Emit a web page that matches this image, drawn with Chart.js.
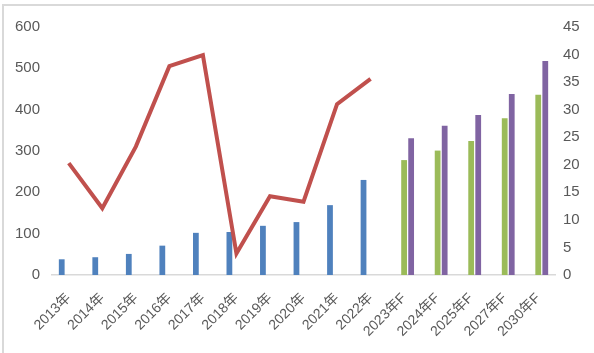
<!DOCTYPE html>
<html>
<head>
<meta charset="utf-8">
<script src="https://cdn.jsdelivr.net/npm/chart.js@4"></script>
<style>
  html, body { margin: 0; padding: 0; background: #fff; }
  #wrap { position: relative; width: 594px; height: 353px; }
</style>
</head>
<body>
<div id="wrap"><canvas id="chart" width="594" height="353"></canvas></div>
<script>
//-----------------------------------------
// DATA
//-----------------------------------------
const years = ["2013年", "2014年", "2015年", "2016年", "2017年", "2018年", "2019年", "2020年",
  "2021年", "2022年", "2023年F", "2024年F", "2025年F", "2027年F", "2030年F"];

// bars (left axis)
const actualValues = [38, 43, 51, 71, 102, 104, 119, 128, 169, 230, null, null, null, null, null];
const forecastLow  = [null, null, null, null, null, null, null, null, null, null, 278, 301, 324, 379, 436];
const forecastHigh = [null, null, null, null, null, null, null, null, null, null, 331, 361, 387, 438, 518];

// line (right axis)
const growthRate = [20.3, 12.1, 23.3, 37.9, 39.9, 3.9, 14.3, 13.3, 31.0, 35.6, null, null, null, null, null];

const leftTicks = [0, 100, 200, 300, 400, 500, 600];
const rightTicks = [0, 5, 10, 15, 20, 25, 30, 35, 40, 45];

const tickColor = "#595959";
const tickFont = { family: "'Liberation Sans', 'Noto Sans CJK SC', sans-serif", size: 15 };

// light frame like the screenshot (top + left edge)
const framePlugin = {
  id: "frame",
  afterDraw(chart) {
    const ctx = chart.ctx;
    ctx.save();
    ctx.strokeStyle = "#d9d9d9";
    ctx.lineWidth = 2;
    ctx.beginPath();
    ctx.moveTo(3, 353);
    ctx.lineTo(3, 5);
    ctx.lineTo(594, 5);
    ctx.stroke();
    ctx.restore();
  }
};

new Chart(document.getElementById("chart"), {
  data: {
    labels: years,
    datasets: [
      {
        type: "line",
        data: growthRate,
        yAxisID: "y1",
        borderColor: "#C0504D",
        borderWidth: 4,
        pointRadius: 0,
        tension: 0,
        spanGaps: false,
        order: 0
      },
      {
        type: "bar",
        data: actualValues,
        yAxisID: "y",
        backgroundColor: "#4F81BD",
        categoryPercentage: 0.63,
        barPercentage: 0.82,
        order: 1
      },
      {
        type: "bar",
        data: forecastLow,
        yAxisID: "y",
        backgroundColor: "#9BBB59",
        categoryPercentage: 0.63,
        barPercentage: 0.82,
        order: 1
      },
      {
        type: "bar",
        data: forecastHigh,
        yAxisID: "y",
        backgroundColor: "#8064A2",
        categoryPercentage: 0.63,
        barPercentage: 0.82,
        order: 1
      }
    ]
  },
  options: {
    responsive: false,
    animation: false,
    layout: { padding: { top: 27, left: 0, right: 0, bottom: 0 } },
    plugins: {
      legend: { display: false },
      tooltip: { enabled: false }
    },
    scales: {
      x: {
        grid: { display: false, drawTicks: false },
        border: { display: true, color: "#d9d9d9", width: 1.5 },
        ticks: {
          color: tickColor,
          font: { family: tickFont.family, size: 14 },
          minRotation: 45,
          maxRotation: 45,
          autoSkip: false,
          padding: 15
        },
        afterFit(scale) { scale.height = 78; }
      },
      y: {
        position: "left",
        min: 0,
        max: 600,
        grid: { display: false, drawTicks: false },
        border: { display: false },
        afterBuildTicks(scale) { scale.ticks = leftTicks.map(v => ({ value: v })); },
        ticks: { color: tickColor, font: tickFont, padding: 12 },
        afterFit(scale) { scale.width = 52; }
      },
      y1: {
        position: "right",
        min: 0,
        max: 45,
        grid: { display: false, drawTicks: false },
        border: { display: false },
        afterBuildTicks(scale) { scale.ticks = rightTicks.map(v => ({ value: v })); },
        ticks: { color: tickColor, font: tickFont, padding: 8 },
        afterFit(scale) { scale.width = 39; }
      }
    }
  },
  plugins: [framePlugin]
});
</script>
</body>
</html>
